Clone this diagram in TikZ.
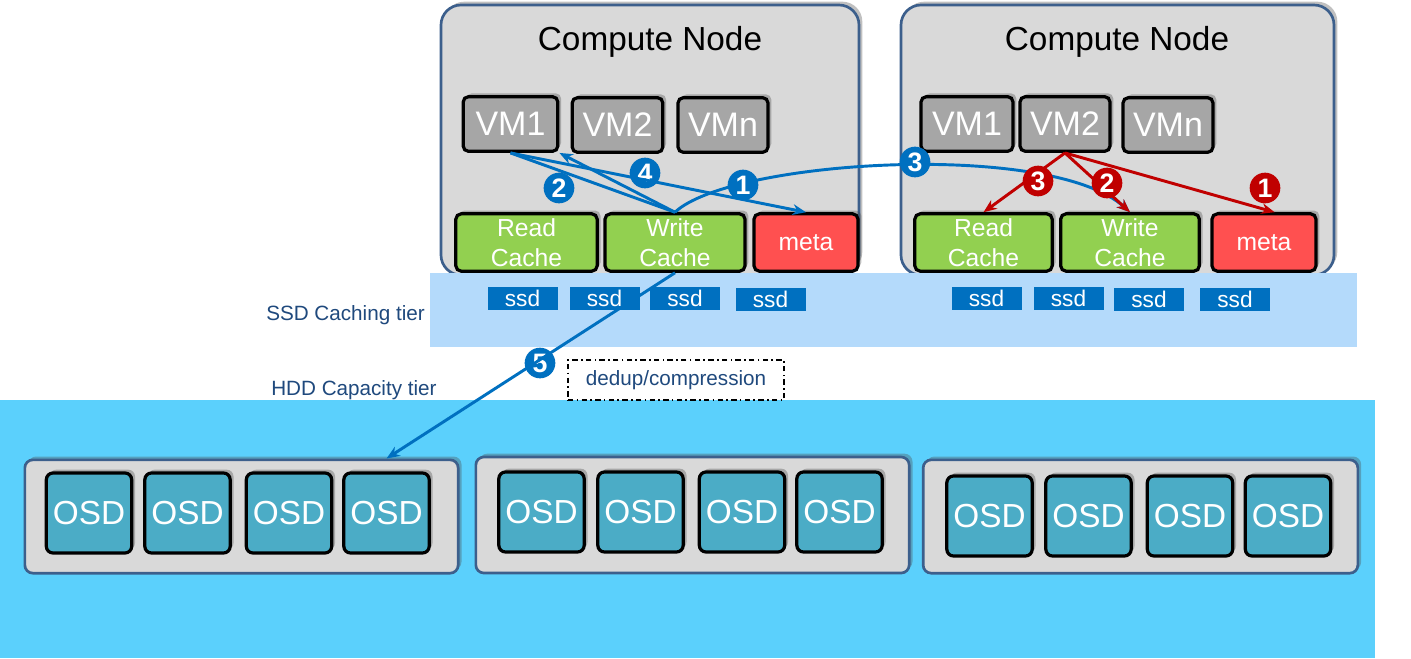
\documentclass[tikz,border=0pt]{standalone}
\usepackage{fontspec}
\setmainfont{Liberation Sans}
\usetikzlibrary{arrows.meta,shadows}

\definecolor{nodegray}{RGB}{217,217,217}
\definecolor{nodeframe}{RGB}{60,95,140}
\definecolor{vmgray}{RGB}{166,166,166}
\definecolor{cachegreen}{RGB}{146,208,80}
\definecolor{metared}{RGB}{255,80,80}
\definecolor{ssdblue}{RGB}{0,112,192}
\definecolor{ssdband}{RGB}{180,218,251}
\definecolor{hddband}{RGB}{91,208,252}
\definecolor{osdteal}{RGB}{75,172,198}
\definecolor{tierblue}{RGB}{31,73,125}
\definecolor{flowblue}{RGB}{0,112,192}
\definecolor{flowred}{RGB}{192,0,0}

\tikzset{
  softshadow/.style={drop shadow={shadow xshift=2.5pt,shadow yshift=2.5pt,opacity=0.35,fill=black!70}},
  nodebox/.style={draw=nodeframe,line width=2pt,fill=nodegray,rounded corners=15pt,softshadow,inner sep=0pt,minimum height=202.5pt},
  titletext/.style={font=\fontsize{25}{25}\selectfont,text=black,inner sep=0pt},
  vmbox/.style={draw=black,line width=2.4pt,fill=vmgray,rounded corners=4pt,softshadow,text=white,font=\fontsize{25.5}{25.5}\selectfont,minimum height=41pt,inner sep=0pt},
  cachebox/.style={draw=black,line width=2.4pt,fill=cachegreen,rounded corners=4pt,softshadow,text=white,align=center,font=\fontsize{18.5}{22.5}\selectfont,minimum height=43pt,inner sep=0pt},
  metabox/.style={cachebox,fill=metared},
  ssdbox/.style={fill=ssdblue,text=white,font=\fontsize{17}{17}\selectfont,minimum width=52.5pt,minimum height=17pt,inner sep=0pt},
  tiertext/.style={text=tierblue,font=\fontsize{15.5}{15.5}\selectfont,inner sep=0pt},
  grpbox/.style={draw=nodeframe,line width=2pt,fill=nodegray,rounded corners=6pt,softshadow,minimum width=325pt,minimum height=85pt,inner sep=0pt},
  osdbox/.style={draw=black,line width=2.4pt,fill=osdteal,rounded corners=5pt,softshadow,text=white,font=\fontsize{25}{25}\selectfont,minimum width=64pt,minimum height=60pt,inner sep=0pt},
  numbadge/.style={circle,inner sep=0pt,minimum size=23pt,text=white,font=\bfseries\fontsize{20}{20}\selectfont},
  flowA/.style={draw=flowblue,line width=2.2pt},
  flowB/.style={draw=flowred,line width=2.2pt},
}

\begin{document}
\begin{tikzpicture}[x=0.75pt,y=0.75pt,yscale=-1,>={Stealth[length=10pt,width=8pt]}]
\fill[white] (0,0) rectangle (1411,658);
\useasboundingbox (0,0) rectangle (1411,658);

% compute nodes
\node[nodebox,minimum width=313.5pt] (cnA) at (650,140) {};
\node[nodebox,minimum width=324.75pt] (cnB) at (1117.5,140) {};
\node[titletext] (cnAtitle) at (650,42) {Compute Node};
\node[titletext] (cnBtitle) at (1117,42) {Compute Node};

% virtual machines
\node[vmbox,minimum width=71pt] (vmA1) at (510.5,124) {VM1};
\node[vmbox,minimum width=68pt] (vmA2) at (617.5,125) {VM2};
\node[vmbox,minimum width=67.5pt] (vmAn) at (723,125) {VMn};
\node[vmbox,minimum width=69pt] (vmB1) at (967,124) {VM1};
\node[vmbox,minimum width=67.5pt] (vmB2) at (1065,124) {VM2};
\node[vmbox,minimum width=67.5pt] (vmBn) at (1168,125) {VMn};

% caches
\node[cachebox,minimum width=106pt] (rcA) at (526.5,242.5) {Read\\Cache};
\node[cachebox,minimum width=105pt] (wcA) at (675,242.5) {Write\\Cache};
\node[metabox,minimum width=78pt] (mtA) at (806,242.5) {meta};
\node[cachebox,minimum width=103pt] (rcB) at (983.5,242.5) {Read\\Cache};
\node[cachebox,minimum width=104pt] (wcB) at (1130,242.5) {Write\\Cache};
\node[metabox,minimum width=78pt] (mtB) at (1264,242.5) {meta};

% ssd tier
\fill[ssdband] (430,273) rectangle (1357,347);
\node[ssdbox] (ssdA1) at (522.5,298.5) {ssd};
\node[ssdbox] (ssdA2) at (604.5,298.5) {ssd};
\node[ssdbox] (ssdA3) at (685,298.5) {ssd};
\node[ssdbox] (ssdA4) at (770.5,299.5) {ssd};
\node[ssdbox] (ssdB1) at (986.5,298.5) {ssd};
\node[ssdbox] (ssdB2) at (1068.5,298.5) {ssd};
\node[ssdbox] (ssdB3) at (1149,299.5) {ssd};
\node[ssdbox] (ssdB4) at (1235,299.5) {ssd};
\node[tiertext,anchor=west] (ssdlabel) at (266,315) {SSD Caching tier};
\node[tiertext,anchor=west] (hddlabel) at (271,390) {HDD Capacity tier};

% hdd tier
\fill[hddband] (0,400) rectangle (1375,658);
\node[draw=black,line width=1.1pt,dash pattern={on 4pt off 2.5pt on 1.2pt off 2.5pt},tiertext,minimum width=162pt,minimum height=30pt] (dedup) at (676,380) {dedup/compression};

\node[grpbox] (grpA) at (241.5,516.5) {};
\node[grpbox,minimum height=87pt] (grpB) at (692.5,515) {};
\node[grpbox,minimum width=326pt] (grpC) at (1140.5,516.5) {};
\node[osdbox] (osdA1) at (89,513) {OSD};
\node[osdbox] (osdA2) at (187.5,513) {OSD};
\node[osdbox] (osdA3) at (289,513) {OSD};
\node[osdbox] (osdA4) at (386.5,513) {OSD};
\node[osdbox] (osdB1) at (541.5,512) {OSD};
\node[osdbox] (osdB2) at (640.5,512) {OSD};
\node[osdbox] (osdB3) at (742,512) {OSD};
\node[osdbox] (osdB4) at (839.5,512) {OSD};
\node[osdbox] (osdC1) at (989.5,516) {OSD};
\node[osdbox] (osdC2) at (1088.5,516) {OSD};
\node[osdbox] (osdC3) at (1190,516) {OSD};
\node[osdbox] (osdC4) at (1288,516) {OSD};

% step numbers under the lines
\node[numbadge,fill=flowblue] (nA4) at (645,173) {4};
\node[numbadge,fill=flowblue] (nA5) at (540,363) {5};

% local write path
\draw[flowA] (vmA1.south) -- (wcA.north);
\draw[flowA,->] (wcA.north) -- (vmA1.south east);
\draw[flowA,->] (vmA1.south) -- (mtA.north);
\draw[flowA,->] (wcA.north) .. controls (730,160) and (1050,140) .. (wcB.north);
\draw[flowA,->] (wcA.south) -- (grpA.north -| osdA4);

% remote path
\draw[flowB,->] (vmB2.south) -- (rcB.north);
\draw[flowB,->] (vmB2.south) -- (wcB.north);
\draw[flowB,->] (vmB2.south) -- ([xshift=8pt]mtB.north);

% step numbers
\node[numbadge,fill=flowblue] (nA2) at (559,188) {2};
\node[numbadge,fill=flowblue] (nA1) at (743,185) {1};
\node[numbadge,fill=flowblue] (nA3) at (915,162) {3};
\node[numbadge,fill=flowred] (nB3) at (1038,181) {3};
\node[numbadge,fill=flowred] (nB2) at (1107,183) {2};
\node[numbadge,fill=flowred] (nB1) at (1265,188) {1};

\end{tikzpicture}
\end{document}
